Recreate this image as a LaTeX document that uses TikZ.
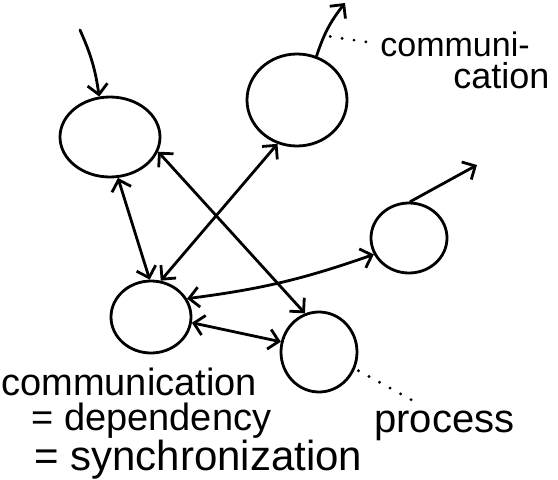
\documentclass[tikz,border=0pt]{standalone}
\usepackage{fontspec}
\setmainfont{Liberation Sans}
\usetikzlibrary{shapes.geometric}
\usetikzlibrary{arrows.meta}

\begin{document}
\begin{tikzpicture}
    [x=1pt, y=-1pt, line width=2.8pt,
     proc/.style={draw, ellipse, inner sep=0pt},
     link/.style={>={Straight Barb[length=10pt,width=20pt]}, line cap=round},
     leader/.style={line width=3.2pt, dash pattern=on 0pt off 12pt, line cap=round},
     txt/.style={anchor=base west, inner sep=0pt, font=\fontsize{38}{40}\selectfont}]
    \useasboundingbox (0,0) rectangle (558,480);

    \node (a) [proc, minimum width=100pt, minimum height=80pt] at (110,137) {};
    \node (b) [proc, minimum width=100pt, minimum height=92pt] at (297,100) {};
    \node (c) [proc, minimum width=76pt, minimum height=70pt] at (409,238) {};
    \node (d) [proc, minimum width=80pt, minimum height=72pt] at (151,317) {};
    \node (e) [proc, minimum width=76pt, minimum height=80pt] at (319,352) {};

    \coordinate (ain) at (80,30);
    \coordinate (bout) at (345,3);
    \coordinate (cout) at (477,165);

    % labels
    \node (com1) [txt, font=\fontsize{34}{36}\selectfont] at (379,56) {communi-};
    \node (com2) [txt, font=\fontsize{36}{36}\selectfont] at (452,88) {cation};
    \node (proc) [txt, font=\fontsize{40}{40}\selectfont] at (373,432) {process};
    \node (lg1) [txt] at (0,395) {communication};
    \node (lg2) [txt] at (30,430) {= dependency};
    \node (lg3) [txt, font=\fontsize{42}{40}\selectfont] at (33,470) {= synchronization};

    \draw[link, ->] (ain) to[bend left=8] (a.105);
    \draw[link, ->] (b.66) to[bend left=10] coordinate[pos=0.35] (bm) (bout);
    \draw[link, ->] (c.88) -- (cout);

    \draw[link, <->] (a.281) -- (d.92);
    \draw[link, <->] (d.75) -- (b.246);
    \draw[link, <->] (a.343) -- (e.110);
    \draw[link, <->] (d.27) to[bend right=6] (c.205);
    \draw[link, <->] (d.352) -- (e.165);

    \draw[leader, shorten <=6pt, shorten >=6pt] (bm) -- (com1.west);
    \draw[leader, shorten <=4pt, shorten >=12pt] (e.335) -- (proc.135);

  \end{tikzpicture}
\end{document}
